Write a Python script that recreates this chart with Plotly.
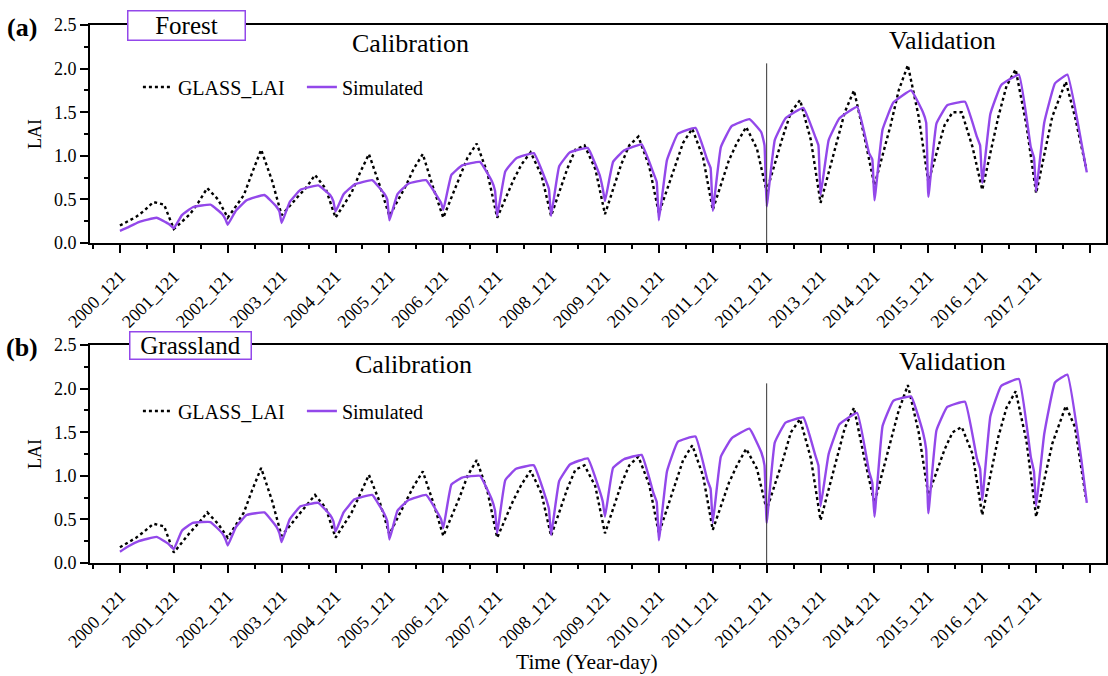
import plotly.graph_objects as go

# ---------------- data ----------------
YEARS = list(range(2000, 2018))
TICK_LABELS = [f"{y}_121" for y in YEARS] + [""]
TICK_POS = list(range(0, 19))          # years after 2000_121

# sampling positions inside each yearly cycle (fraction of a year after day 121)
SIM_OFFSETS = [0.0, 0.15, 0.35, 0.68, 0.90, 0.96]
SIM_LAST_OFFSETS = [0.0, 0.15, 0.35, 0.58, 0.84, 0.94]
GLASS_OFFSETS = [0.0, 0.30, 0.45, 0.62, 0.82]
GLASS_LAST_OFFSETS = [0.0, 0.30, 0.55, 0.72, 0.92]

FOREST_SIM = [
    [0.14, 0.18, 0.24, 0.29, 0.22, 0.19],
    [0.17, 0.32, 0.41, 0.44, 0.33, 0.27],
    [0.21, 0.37, 0.49, 0.55, 0.42, 0.36],
    [0.23, 0.47, 0.61, 0.66, 0.55, 0.48],
    [0.36, 0.56, 0.67, 0.72, 0.57, 0.50],
    [0.26, 0.56, 0.68, 0.72, 0.52, 0.46],
    [0.38, 0.78, 0.89, 0.93, 0.71, 0.60],
    [0.31, 0.82, 0.97, 1.03, 0.72, 0.62],
    [0.31, 0.88, 1.04, 1.09, 0.78, 0.62],
    [0.48, 0.93, 1.06, 1.13, 0.80, 0.70],
    [0.26, 0.95, 1.25, 1.32, 0.95, 0.86],
    [0.37, 1.10, 1.34, 1.42, 1.27, 1.12],
    [0.42, 1.18, 1.43, 1.55, 1.22, 1.12],
    [0.55, 1.18, 1.43, 1.56, 1.03, 0.96],
    [0.49, 1.30, 1.61, 1.75, 1.50, 1.38],
    [0.53, 1.37, 1.58, 1.62, 1.22, 1.12],
    [0.69, 1.48, 1.81, 1.93, 1.10, 0.98],
    [0.59, 1.38, 1.83, 1.93, 1.15, 0.81],
]
FOREST_GLASS = [
    [0.20, 0.30, 0.37, 0.47, 0.44],
    [0.16, 0.33, 0.46, 0.63, 0.50],
    [0.29, 0.55, 0.80, 1.07, 0.72],
    [0.32, 0.53, 0.63, 0.78, 0.62],
    [0.29, 0.58, 0.80, 1.02, 0.66],
    [0.31, 0.65, 0.85, 1.02, 0.62],
    [0.29, 0.75, 0.98, 1.14, 0.80],
    [0.29, 0.72, 0.90, 1.04, 0.78],
    [0.31, 0.85, 1.07, 1.12, 0.85],
    [0.33, 0.90, 1.12, 1.22, 0.88],
    [0.34, 0.88, 1.15, 1.31, 0.98],
    [0.38, 0.95, 1.15, 1.33, 1.08],
    [0.59, 1.22, 1.50, 1.64, 1.18],
    [0.46, 1.15, 1.50, 1.75, 1.20],
    [0.66, 1.35, 1.75, 2.04, 1.45],
    [0.70, 1.35, 1.50, 1.50, 1.10],
    [0.61, 1.45, 1.80, 1.99, 1.35],
    [0.57, 1.45, 1.85, 1.45, 0.88],
]
GRASS_SIM = [
    [0.13, 0.19, 0.25, 0.30, 0.22, 0.18],
    [0.16, 0.37, 0.46, 0.47, 0.34, 0.27],
    [0.20, 0.41, 0.55, 0.58, 0.42, 0.34],
    [0.24, 0.50, 0.65, 0.69, 0.55, 0.48],
    [0.36, 0.58, 0.73, 0.78, 0.57, 0.48],
    [0.27, 0.60, 0.72, 0.78, 0.57, 0.50],
    [0.40, 0.90, 0.98, 1.00, 0.73, 0.60],
    [0.34, 0.95, 1.08, 1.12, 0.75, 0.62],
    [0.32, 0.94, 1.13, 1.20, 0.83, 0.70],
    [0.53, 1.09, 1.19, 1.24, 0.80, 0.70],
    [0.26, 1.05, 1.39, 1.45, 0.95, 0.85],
    [0.46, 1.22, 1.43, 1.54, 1.27, 1.12],
    [0.46, 1.38, 1.61, 1.67, 1.24, 1.12],
    [0.65, 1.25, 1.59, 1.72, 1.05, 0.92],
    [0.53, 1.57, 1.86, 1.91, 1.50, 1.30],
    [0.57, 1.52, 1.79, 1.85, 1.20, 1.08],
    [0.72, 1.68, 2.03, 2.11, 1.22, 1.05],
    [0.65, 1.48, 2.07, 2.16, 1.18, 0.69],
]
GRASS_GLASS = [
    [0.18, 0.29, 0.36, 0.45, 0.42],
    [0.12, 0.35, 0.45, 0.58, 0.45],
    [0.29, 0.58, 0.83, 1.09, 0.72],
    [0.31, 0.54, 0.65, 0.78, 0.63],
    [0.29, 0.58, 0.78, 1.01, 0.70],
    [0.33, 0.70, 0.88, 1.05, 0.68],
    [0.31, 0.75, 1.00, 1.18, 0.82],
    [0.29, 0.72, 0.90, 1.06, 0.80],
    [0.31, 0.85, 1.07, 1.12, 0.88],
    [0.34, 0.90, 1.12, 1.22, 0.90],
    [0.34, 0.90, 1.18, 1.35, 1.00],
    [0.38, 0.92, 1.12, 1.31, 1.08],
    [0.61, 1.18, 1.50, 1.65, 1.20],
    [0.49, 1.20, 1.55, 1.78, 1.18],
    [0.69, 1.40, 1.75, 2.04, 1.50],
    [0.78, 1.30, 1.50, 1.56, 1.25],
    [0.55, 1.45, 1.78, 1.97, 1.40],
    [0.53, 1.37, 1.80, 1.56, 0.76],
]
SPLIT_YEAR = 12          # 2012_121 : calibration / validation boundary
SPLIT_TOP = 2.06

# ---------------- helpers ----------------
def build(cycles, offs, last_offs):
    t, v = [], []
    n = len(cycles)
    for k, vals in enumerate(cycles):
        o = last_offs if k == n - 1 else offs
        for off, val in zip(o, vals):
            t.append(k + off)
            v.append(val)
    return t, v

W, H = 1108, 676
L, R, T, B = 90, 0, 25, 113
PW, PH = W - L - R, H - T - B

def px(x):
    return (x - L) / PW

def py(y):
    return (H - B - y) / PH

FONT = "Liberation Serif"
PURPLE = "#9348ea"
top_dom = [py(243), 1.0]
bot_dom = [0.0, py(345)]

fig = go.Figure()

panels = [
    (FOREST_GLASS, FOREST_SIM, "x", "y", "legend"),
    (GRASS_GLASS, GRASS_SIM, "x2", "y2", "legend2"),
]
for glass, sim, xa, ya, lg in panels:
    tg, vg = build(glass, GLASS_OFFSETS, GLASS_LAST_OFFSETS)
    ts, vs = build(sim, SIM_OFFSETS, SIM_LAST_OFFSETS)
    fig.add_trace(go.Scatter(x=tg, y=vg, mode="lines", name="GLASS_LAI",
                             line=dict(color="black", width=2.4, dash="3px,3px"),
                             xaxis=xa, yaxis=ya, legend=lg))
    fig.add_trace(go.Scatter(x=ts, y=vs, mode="lines", name="Simulated",
                             line=dict(color=PURPLE, width=2.4, shape="spline", smoothing=0.3),
                             xaxis=xa, yaxis=ya, legend=lg))
    fig.add_shape(type="line", xref=xa, yref=ya, x0=SPLIT_YEAR, x1=SPLIT_YEAR,
                  y0=0, y1=SPLIT_TOP, line=dict(color="#333333", width=1))

xrange = [(L - 120) / 54.0, (W - 120) / 54.0]
minor_vals = [k + 0.5 for k in range(-1, 19)]

def xaxis_cfg(anchor):
    return dict(
        range=xrange, anchor=anchor, tickmode="array", tickvals=TICK_POS,
        ticktext=TICK_LABELS, tickangle=-45, ticks="outside", ticklen=8,
        tickwidth=2, tickcolor="black", showline=True, linecolor="black",
        linewidth=2, mirror=True, showgrid=False, zeroline=False,
        ticklabelstandoff=6,
        tickfont=dict(family=FONT, size=18, color="black"),
        minor=dict(tickmode="array", tickvals=minor_vals, ticks="outside",
                   ticklen=4, tickwidth=2, tickcolor="black", showgrid=False),
    )

def yaxis_cfg(anchor, dom):
    return dict(
        range=[0, 2.5], domain=dom, anchor=anchor, tickmode="array",
        tickvals=[0, 0.5, 1.0, 1.5, 2.0, 2.5], tickformat=".1f",
        ticks="outside", ticklen=8, tickwidth=2, tickcolor="black",
        showline=True, linecolor="black", linewidth=2, mirror=True,
        showgrid=False, zeroline=False,
        tickfont=dict(family=FONT, size=18, color="black"),
        title=dict(text="LAI", font=dict(family=FONT, size=18, color="black"), standoff=8),
        minor=dict(dtick=0.25, tick0=0, ticks="outside", ticklen=4, tickwidth=2,
                   tickcolor="black", showgrid=False),
    )

legend_common = dict(
    orientation="h", xanchor="left", yanchor="middle", bgcolor="rgba(0,0,0,0)",
    font=dict(family=FONT, size=20, color="black"), itemwidth=30,
    entrywidth=119, entrywidthmode="pixels", tracegroupgap=0,
)

fig.update_layout(
    width=W, height=H, margin=dict(l=L, r=R, t=T, b=B),
    paper_bgcolor="white", plot_bgcolor="white",
    xaxis=xaxis_cfg("y"), yaxis=yaxis_cfg("x", top_dom),
    xaxis2=xaxis_cfg("y2"), yaxis2=yaxis_cfg("x2", bot_dom),
    legend=dict(x=px(138), y=py(87), **legend_common),
    legend2=dict(x=px(138), y=py(411), **legend_common),
    showlegend=True,
)

ann = []
def text(x, y, s, size, bold=False, **kw):
    ann.append(dict(xref="paper", yref="paper", x=px(x), y=py(y), text=(f"<b>{s}</b>" if bold else s),
                    showarrow=False, xanchor="center", yanchor="middle",
                    font=dict(family=FONT, size=size, color="black"), **kw))

text(22, 27, "(a)", 26, bold=True)
text(22, 347, "(b)", 26, bold=True)
text(187, 25, "Forest", 25, bgcolor="white", bordercolor=PURPLE, borderwidth=1.5, borderpad=0,
     width=116, height=28)
text(191, 345, "Grassland", 25, bgcolor="white", bordercolor=PURPLE, borderwidth=1.5, borderpad=0,
     width=120, height=26)
text(411, 44, "Calibration", 26)
text(944, 41, "Validation", 26)
text(414, 364, "Calibration", 26)
text(954, 361, "Validation", 26)
text(588, 662, "Time (Year-day)", 21.5)
fig.update_layout(annotations=ann)

fig.write_html("out.html")
